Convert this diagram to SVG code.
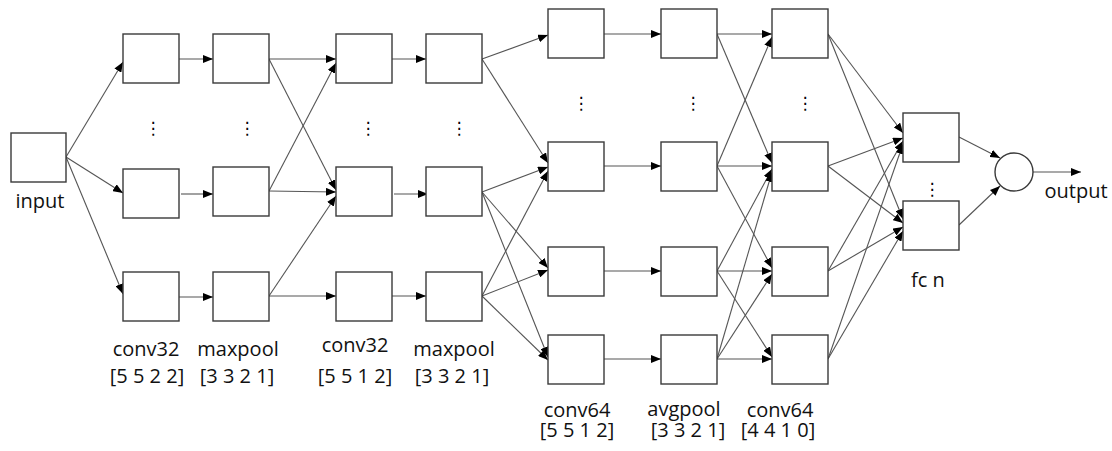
<svg xmlns="http://www.w3.org/2000/svg" width="1112" height="451" viewBox="0 0 1112 451">
<style>
.box{fill:#fff;stroke:#3a3a3a;stroke-width:1.4}
.lbl{font-family:"Open Sans","Liberation Sans",sans-serif;font-size:20px;fill:#111;text-anchor:middle}
.dots{font-family:"DejaVu Sans",sans-serif;font-size:17px;fill:#000;text-anchor:middle}
.c path{fill:none;stroke:#555;stroke-width:1.1;marker-end:url(#ah)}
</style>
<defs>
<marker id="ah" markerUnits="userSpaceOnUse" markerWidth="10" markerHeight="8" refX="10" refY="4" orient="auto">
<path d="M0,0 L10,4 L0,8 z" fill="#000"/>
</marker>
</defs>
<rect width="1112" height="451" fill="#fff"/>
<g class="c" id="connectors">
<path d="M66,157 L123,62"/>
<path d="M66,157 L123,193"/>
<path d="M66,157 L123,294"/>
<path d="M179,59 L213,59"/>
<path d="M181,194 L213,194"/>
<path d="M179,297 L213,297"/>
<path d="M269,59 L336,59"/>
<path d="M269,59 L336,190"/>
<path d="M269,191 L336,63"/>
<path d="M269,191 L336,192"/>
<path d="M269,296 L336,196"/>
<path d="M269,296 L336,296"/>
<path d="M392,59 L426,59"/>
<path d="M394,194 L428,194"/>
<path d="M392,296 L426,296"/>
<path d="M482,59 L548,35"/>
<path d="M482,59 L548,163"/>
<path d="M482,192 L548,167"/>
<path d="M482,192 L548,268"/>
<path d="M482,192 L548,357"/>
<path d="M482,296 L548,171"/>
<path d="M482,296 L548,270"/>
<path d="M482,296 L548,360"/>
<path d="M604,34 L661,34"/>
<path d="M604,166 L661,166"/>
<path d="M604,271 L661,271"/>
<path d="M604,359 L661,359"/>
<path d="M717,34 L772,34"/>
<path d="M717,34 L772,163"/>
<path d="M717,166 L772,37"/>
<path d="M717,166 L772,166"/>
<path d="M717,166 L772,268"/>
<path d="M717,271 L772,169"/>
<path d="M717,271 L772,271"/>
<path d="M717,271 L772,357"/>
<path d="M717,359 L772,172"/>
<path d="M717,359 L772,274"/>
<path d="M717,359 L772,359"/>
<path d="M828,34 L903,133"/>
<path d="M828,34 L903,219"/>
<path d="M828,166 L903,138"/>
<path d="M828,166 L903,223"/>
<path d="M828,271 L903,141"/>
<path d="M828,271 L903,227"/>
<path d="M828,359 L903,144"/>
<path d="M828,359 L903,231"/>
<path d="M959,137 L1000,158"/>
<path d="M959,225 L1000,186"/>
<path d="M1033,172 L1081,172"/>
</g>
<g id="input"><rect class="box" x="11" y="133" width="55" height="49"/><text class="lbl" x="40" y="208">input</text></g>
<g id="conv32a">
<rect class="box" x="123" y="34" width="56" height="49"/>
<rect class="box" x="123" y="169" width="56" height="49"/>
<rect class="box" x="123" y="272" width="56" height="49"/>
<text class="dots" x="153" y="134">⋮</text>
<text class="lbl" x="146" y="356">conv32</text>
<text class="lbl" x="147" y="383">[5 5 2 2]</text>
</g>
<g id="maxpoola">
<rect class="box" x="213" y="34" width="56" height="49"/>
<rect class="box" x="213" y="167" width="56" height="49"/>
<rect class="box" x="213" y="272" width="56" height="49"/>
<text class="dots" x="247" y="134">⋮</text>
<text class="lbl" x="238" y="356">maxpool</text>
<text class="lbl" x="237" y="383">[3 3 2 1]</text>
</g>
<g id="conv32b">
<rect class="box" x="336" y="34" width="56" height="49"/>
<rect class="box" x="336" y="167" width="56" height="49"/>
<rect class="box" x="336" y="272" width="56" height="49"/>
<text class="dots" x="368" y="134">⋮</text>
<text class="lbl" x="355" y="352">conv32</text>
<text class="lbl" x="355" y="383">[5 5 1 2]</text>
</g>
<g id="maxpoolb">
<rect class="box" x="426" y="34" width="56" height="49"/>
<rect class="box" x="426" y="167" width="56" height="49"/>
<rect class="box" x="426" y="272" width="56" height="49"/>
<text class="dots" x="459" y="134">⋮</text>
<text class="lbl" x="454" y="356">maxpool</text>
<text class="lbl" x="452" y="383">[3 3 2 1]</text>
</g>
<g id="conv64a">
<rect class="box" x="548" y="9" width="56" height="49"/>
<rect class="box" x="548" y="142" width="56" height="49"/>
<rect class="box" x="548" y="247" width="56" height="49"/>
<rect class="box" x="548" y="335" width="56" height="49"/>
<text class="dots" x="581" y="109">⋮</text>
<text class="lbl"><tspan x="577" y="417">conv64</tspan><tspan x="577" y="437">[5 5 1 2]</tspan></text>
</g>
<g id="avgpool">
<rect class="box" x="661" y="9" width="56" height="49"/>
<rect class="box" x="661" y="142" width="56" height="49"/>
<rect class="box" x="661" y="247" width="56" height="49"/>
<rect class="box" x="661" y="335" width="56" height="49"/>
<text class="dots" x="693" y="109">⋮</text>
<text class="lbl"><tspan x="684" y="416">avgpool</tspan><tspan x="688" y="437">[3 3 2 1]</tspan></text>
</g>
<g id="conv64b">
<rect class="box" x="772" y="9" width="56" height="49"/>
<rect class="box" x="772" y="142" width="56" height="49"/>
<rect class="box" x="772" y="247" width="56" height="49"/>
<rect class="box" x="772" y="335" width="56" height="49"/>
<text class="dots" x="805" y="109">⋮</text>
<text class="lbl"><tspan x="780" y="417">conv64</tspan><tspan x="778" y="437">[4 4 1 0]</tspan></text>
</g>
<g id="fc">
<rect class="box" x="903" y="113" width="56" height="49"/>
<rect class="box" x="903" y="201" width="56" height="49"/>
<text class="dots" x="932" y="195">⋮</text>
<text class="lbl" x="928" y="287">fc n</text>
</g>
<g id="output">
<circle class="box" cx="1014" cy="172" r="19"/>
<text class="lbl" x="1076" y="198">output</text>
</g>
</svg>
